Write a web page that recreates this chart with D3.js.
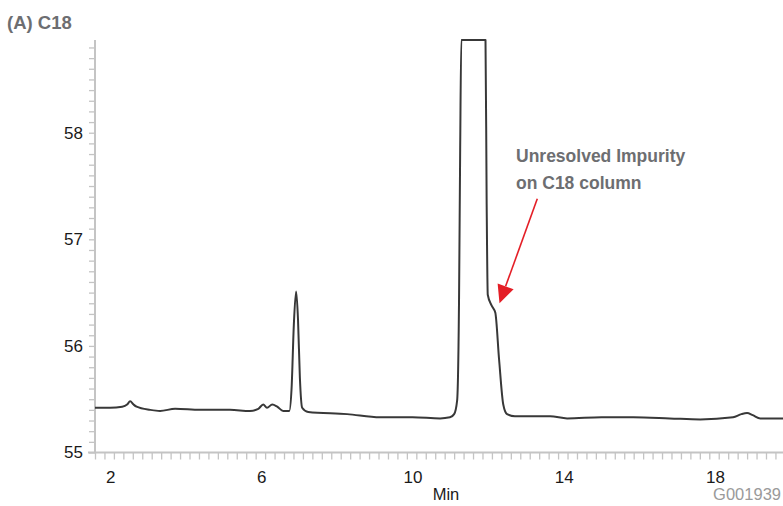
<!DOCTYPE html>
<html>
<head>
<meta charset="utf-8">
<script src="https://cdn.jsdelivr.net/npm/d3@7"></script>
<style>
  body { margin: 0; background: #fff; }
  svg { display: block; font-family: "Liberation Sans", Arial, sans-serif; }
</style>
</head>
<body>
<svg id="chrom" width="783" height="506"></svg>
<script>
// retention time (min) and detector signal
const minutes = [1.60, 2.00, 2.32, 2.45, 2.53, 2.62, 2.70, 3.06, 3.32, 3.72, 4.38, 5.17, 5.70, 5.92,
    6.05, 6.15, 6.29, 6.42, 6.58, 6.74, 6.80, 6.86, 6.92, 6.97, 7.02, 7.08, 7.24, 8.27, 9.14, 10.00,
    10.73, 10.99, 11.10, 11.18, 11.23, 11.26, 11.29, 11.93, 11.96, 11.99, 12.09, 12.19, 12.29, 12.40,
    12.50, 12.71, 13.64, 14.09, 15.00, 15.84, 16.80, 17.61, 18.48, 18.70, 18.85, 19.00, 19.20, 19.80];
const signal = [55.42, 55.42, 55.43, 55.45, 55.48, 55.45, 55.43, 55.40, 55.39, 55.41, 55.40, 55.40, 55.39, 55.41,
    55.45, 55.42, 55.45, 55.43, 55.39, 55.39, 55.60, 56.20, 56.51, 56.25, 55.70, 55.42, 55.38, 55.36, 55.33, 55.33,
    55.32, 55.33, 55.36, 55.49, 56.43, 57.84, 58.87, 58.87, 57.37, 56.48, 56.38, 56.31, 55.87, 55.45,
    55.36, 55.34, 55.34, 55.32, 55.33, 55.33, 55.32, 55.31, 55.33, 55.36, 55.37, 55.35, 55.32, 55.32];

const xTicks = [2, 6, 10, 14, 18];
const yTicks = [55, 56, 57, 58];
const xDomain = [1.6, 19.8];
const yDomain = [55, 58.87];

const title = "(A) C18";
const noteLines = ["Unresolved Impurity", "on C18 column"];
const notePoint = [12.3, 56.4];   // where the arrow points (min, signal)
const noteFrom = [13.3, 57.38];

(function(){

    var margin = {top: 40, right: 0, bottom: 53.5, left: 95};
    var width = 783 - margin.left - margin.right;
    var height = 506 - margin.top - margin.bottom;

    var svg = d3.select("svg#chrom")
        .append("g")
        .attr("transform", "translate(" + margin.left + "," + margin.top + ")");

    let xScale = d3.scaleLinear().domain(xDomain).range([0, width]);
    let yScale = d3.scaleLinear().domain(yDomain).range([height, 0]);

    let data = minutes.map((t, i) => ({t: t, v: signal[i]}));

    svg.append("defs").append("clipPath").attr("id", "plotclip")
        .append("rect")
        .attr("x", 0).attr("y", -1)
        .attr("width", width).attr("height", height + 1);

    // minor ticks
    let xMinor = d3.range(xDomain[0], xDomain[1] + 0.001, 0.25).map(d => Math.round(d * 100) / 100);
    let yMinor = d3.range(55, yDomain[1], 0.1).map(d => Math.round(d * 10) / 10);

    svg.append("g")
        .attr("class", "yaxis")
        .call(d3.axisLeft(yScale).tickValues(yMinor).tickSize(6).tickFormat(""))
        .call(g => g.selectAll("line").attr("stroke", "#c4c4c4").attr("stroke-width", 1.3))
        .call(g => g.select(".domain").attr("stroke", "#c4c4c4").attr("stroke-width", 2).attr("d", "M0," + height + "V0"));

    svg.append("g")
        .attr("class", "xaxis")
        .attr("transform", "translate(0," + height + ")")
        .call(d3.axisBottom(xScale).tickValues(xMinor).tickSize(7).tickFormat(""))
        .call(g => g.selectAll("line").attr("stroke", "#c4c4c4").attr("stroke-width", 1.3))
        .call(g => g.select(".domain").attr("stroke", "#c4c4c4").attr("stroke-width", 2).attr("d", "M-7,0H" + width));

    // tick labels
    svg.append("g")
        .attr("transform", "translate(0," + height + ")")
        .call(d3.axisBottom(xScale).tickValues(xTicks).tickSize(0).tickPadding(18).tickFormat(d3.format("d")))
        .call(g => g.select(".domain").remove())
        .call(g => g.selectAll("text").attr("font-size", "17px").attr("fill", "#1a1a1a")
            .attr("font-family", "Liberation Sans, Arial, sans-serif"));

    svg.append("g")
        .call(d3.axisLeft(yScale).tickValues(yTicks).tickSize(0).tickPadding(12).tickFormat(d3.format("d")))
        .call(g => g.select(".domain").remove())
        .call(g => g.selectAll("text").attr("font-size", "17px").attr("fill", "#1a1a1a")
            .attr("font-family", "Liberation Sans, Arial, sans-serif"));

    // trace
    let line = d3.line()
        .x(d => xScale(d.t))
        .y(d => yScale(d.v))
        .curve(d3.curveMonotoneX);

    svg.append("path")
        .datum(data)
        .attr("clip-path", "url(#plotclip)")
        .attr("fill", "none")
        .attr("stroke", "#383838")
        .attr("stroke-width", 2)
        .attr("stroke-linejoin", "round")
        .attr("d", line);

    // annotation
    let tip = [xScale(notePoint[0]), yScale(notePoint[1])];
    let from = [xScale(noteFrom[0]), yScale(noteFrom[1])];
    let ang = Math.atan2(tip[1] - from[1], tip[0] - from[0]);
    let headLen = 18, headW = 8.5;
    let base = [tip[0] - headLen * Math.cos(ang), tip[1] - headLen * Math.sin(ang)];

    svg.append("line")
        .attr("x1", from[0]).attr("y1", from[1])
        .attr("x2", base[0]).attr("y2", base[1])
        .attr("stroke", "#e41e26")
        .attr("stroke-width", 1.6);

    svg.append("path")
        .attr("fill", "#e41e26")
        .attr("d", "M" + tip[0] + "," + tip[1]
            + "L" + (base[0] + headW * Math.sin(ang)) + "," + (base[1] - headW * Math.cos(ang))
            + "L" + (base[0] - headW * Math.sin(ang)) + "," + (base[1] + headW * Math.cos(ang)) + "Z");

    svg.append("g")
        .selectAll("text")
        .data(noteLines)
        .enter()
        .append("text")
            .attr("x", 421)
            .attr("y", (d, i) => 122 + i * 27)
            .attr("font-size", "17.5px")
            .attr("font-weight", "bold")
            .attr("fill", "#6d6e71")
            .text(d => d);

    // labels outside the plot
    let root = d3.select("svg#chrom");

    root.append("text")
        .attr("x", 7)
        .attr("y", 29)
        .attr("font-size", "18.5px")
        .attr("font-weight", "bold")
        .attr("fill", "#6d6e71")
        .text(title);

    root.append("text")
        .attr("x", 446)
        .attr("y", 500)
        .attr("text-anchor", "middle")
        .attr("font-size", "16.5px")
        .attr("fill", "#1a1a1a")
        .text("Min");

    root.append("text")
        .attr("x", 781)
        .attr("y", 500)
        .attr("text-anchor", "end")
        .attr("font-size", "16.5px")
        .attr("fill", "#9a9a9a")
        .text("G001939");

})()
</script>
</body>
</html>
